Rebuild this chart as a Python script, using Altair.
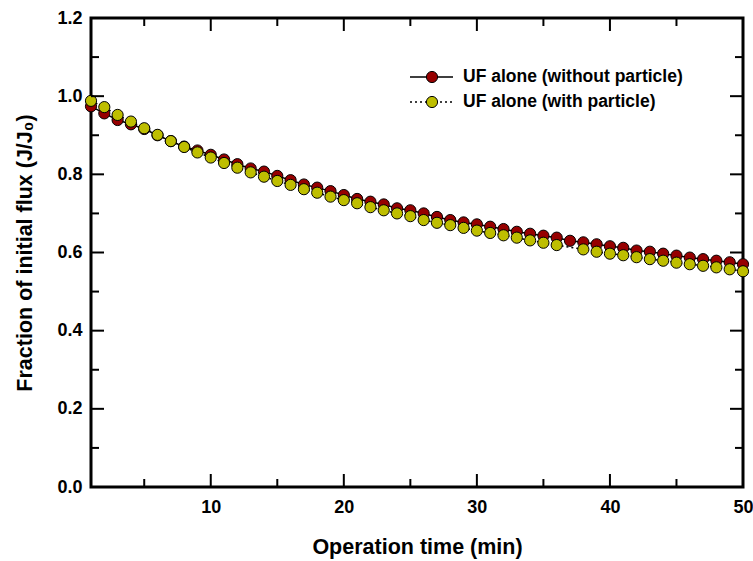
import altair as alt
import pandas as pd

# ---- data ----
time_min = list(range(1, 51))
without_particle = [0.974, 0.956, 0.939, 0.928, 0.916, 0.900, 0.885, 0.871, 0.861, 0.850,
                    0.838, 0.826, 0.815, 0.807, 0.796, 0.785, 0.774, 0.766, 0.757, 0.747,
                    0.737, 0.730, 0.723, 0.713, 0.708, 0.700, 0.691, 0.683, 0.677, 0.672,
                    0.666, 0.660, 0.653, 0.648, 0.643, 0.638, 0.630, 0.626, 0.621, 0.616,
                    0.612, 0.605, 0.602, 0.597, 0.592, 0.587, 0.583, 0.579, 0.575, 0.570]
with_particle = [0.988, 0.972, 0.952, 0.935, 0.918, 0.901, 0.885, 0.870, 0.856, 0.843,
                 0.829, 0.817, 0.805, 0.794, 0.783, 0.773, 0.762, 0.753, 0.743, 0.734,
                 0.726, 0.716, 0.708, 0.700, 0.693, 0.683, 0.676, 0.670, 0.663, 0.656,
                 0.650, 0.644, 0.638, 0.631, 0.625, 0.619, None, 0.608, 0.602, 0.597,
                 0.593, 0.588, 0.583, 0.579, 0.574, 0.570, 0.566, 0.562, 0.557, 0.552]
series_names = ["UF alone (without particle)", "UF alone (with particle)"]
series_colors = ["#960000", "#BEBE00"]
x_major = [10, 20, 30, 40, 50]
x_minor = [5, 15, 25, 35, 45]
y_major = [0.0, 0.2, 0.4, 0.6, 0.8, 1.0, 1.2]
y_minor = [0.1, 0.3, 0.5, 0.7, 0.9, 1.1]

W, H = 652, 469
FONT = "Liberation Sans"

df_a = pd.DataFrame({"t": time_min, "v": without_particle})
df_b = pd.DataFrame({"t": time_min, "v": with_particle}).dropna()

xscale = alt.Scale(domain=[1, 50], nice=False, zero=False)
yscale = alt.Scale(domain=[0, 1.2], nice=False)

xaxis = alt.Axis(values=x_major, ticks=False, domain=False, grid=False,
                 labelFont=FONT, labelFontSize=18, labelFontWeight="bold", labelColor="black",
                 labelPadding=11, labelFlush=False,
                 title="Operation time (min)", titleFont=FONT, titleFontSize=21.5,
                 titleFontWeight="bold", titleColor="black",
                 titleX=W / 2, titleY=60, titleAlign="center", titleBaseline="middle")
yaxis = alt.Axis(values=y_major, format=".1f", ticks=False, domain=False, grid=False,
                 labelFont=FONT, labelFontSize=18, labelFontWeight="bold", labelColor="black",
                 labelPadding=9, labelFlush=False,
                 title="Fraction of initial flux (J/J₀)", titleFont=FONT, titleFontSize=21.5,
                 titleFontWeight="bold", titleColor="black",
                 titleX=-66, titleY=H / 2, titleAngle=270, titleAlign="center",
                 titleBaseline="middle")

X = alt.X("t:Q", scale=xscale, axis=xaxis)
Y = alt.Y("v:Q", scale=yscale, axis=yaxis)

line_a = alt.Chart(df_a).mark_line(color="black", strokeWidth=1.5).encode(x=X, y=Y)
line_b = alt.Chart(df_b).mark_line(color="black", strokeWidth=1.5, strokeDash=[2, 3]).encode(x=X, y=Y)
pts_a = alt.Chart(df_a).mark_point(filled=True, shape="circle", size=125, fill=series_colors[0],
                                   stroke="black", strokeWidth=1, opacity=1).encode(x=X, y=Y)
pts_b = alt.Chart(df_b).mark_point(filled=True, shape="circle", size=125, fill=series_colors[1],
                                   stroke="black", strokeWidth=1, opacity=1).encode(x=X, y=Y)

# inward tick marks on all four sides
def xticks(vals, length):
    d = pd.DataFrame({"t": vals})
    xs = alt.X("t:Q", scale=xscale)
    bottom = alt.Chart(d).mark_rule(color="black", strokeWidth=2).encode(
        x=xs, y=alt.value(H), y2=alt.value(H - length))
    top = alt.Chart(d).mark_rule(color="black", strokeWidth=2).encode(
        x=xs, y=alt.value(0), y2=alt.value(length))
    return [bottom, top]

def yticks(vals, length):
    d = pd.DataFrame({"v": vals})
    ys = alt.Y("v:Q", scale=yscale)
    left = alt.Chart(d).mark_rule(color="black", strokeWidth=2).encode(
        y=ys, x=alt.value(0), x2=alt.value(length))
    right = alt.Chart(d).mark_rule(color="black", strokeWidth=2).encode(
        y=ys, x=alt.value(W), x2=alt.value(W - length))
    return [left, right]

ticks = xticks(x_major, 13) + xticks(x_minor, 8) + yticks(y_major, 13) + yticks(y_minor, 8)

# legend (top right)
leg_df = pd.DataFrame({"name": series_names, "row": [0, 1]})
LX0, LX1, LXM, LXT = 319, 362, 341, 372
LY = [59, 84]
legend_layers = []
for i, name in enumerate(series_names):
    d = leg_df[leg_df["name"] == name]
    dash = [1, 0] if i == 0 else [2, 3]
    legend_layers.append(alt.Chart(d).mark_rule(color="black", strokeWidth=1.5, strokeDash=dash).encode(
        x=alt.value(LX0), x2=alt.value(LX1), y=alt.value(LY[i])))
    legend_layers.append(alt.Chart(d).mark_point(filled=True, shape="circle", size=125,
                                                 fill=series_colors[i], stroke="black",
                                                 strokeWidth=1, opacity=1).encode(
        x=alt.value(LXM), y=alt.value(LY[i])))
    legend_layers.append(alt.Chart(d).mark_text(align="left", baseline="middle", font=FONT,
                                                fontSize=17.5, fontWeight="bold", color="black").encode(
        x=alt.value(LXT), y=alt.value(LY[i]), text="name:N"))

chart = alt.layer(line_a, line_b, pts_a, pts_b, *ticks, *legend_layers).properties(
    width=W, height=H,
    autosize=alt.AutoSizeParams(type="none"),
    padding={"left": 91, "top": 18, "right": 10, "bottom": 74},
    background="white",
).configure_view(stroke="black", strokeWidth=3)

chart.save("out.html", embed_options={"renderer": "svg", "actions": False})
